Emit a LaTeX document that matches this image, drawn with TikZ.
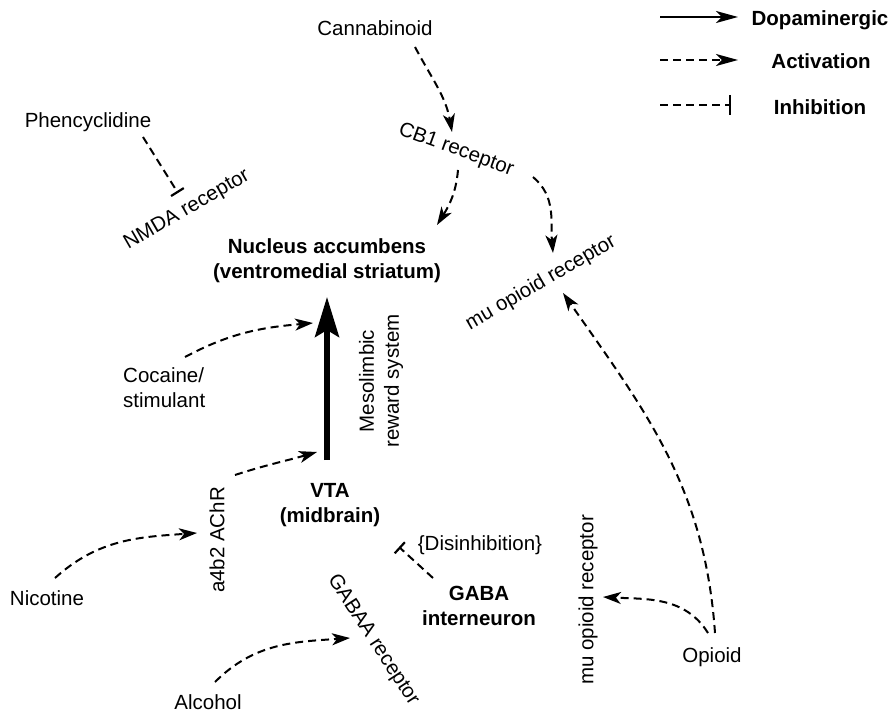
\documentclass[tikz,border=0pt]{standalone}
\usepackage{fontspec}
\setmainfont{Liberation Sans}
\usetikzlibrary{arrows.meta,calc}
\begin{document}
\begin{tikzpicture}[x=1pt,y=1pt,
  lbl/.style={inner sep=1pt,font=\fontsize{20.5}{25}\selectfont},
  blbl/.style={inner sep=1pt,font=\fontsize{20.5}{25}\selectfont\bfseries,align=center},
  act/.style={line width=2pt,dash pattern=on 8pt off 5pt,-{Stealth[length=18pt,width=12pt,inset=5pt]}},
  inh/.style={line width=2pt,dash pattern=on 8pt off 5pt,-{Bar[width=15pt,line width=2.2pt]}},
  dopa/.style={line width=5.5pt,-{Stealth[length=40pt,width=24pt,inset=7pt]}}
]
\useasboundingbox (0,0) rectangle (895,-714);

% nodes
\node[lbl] (cann) at (375,-28) {Cannabinoid};
\node[lbl] (phen) at (88,-122) {Phencyclidine};
\node[lbl,rotate=30] (nmda) at (187,-210) {NMDA receptor};
\node[lbl,rotate=-20] (cb1) at (456,-150) {CB1 receptor};
\node[lbl,rotate=30] (muup) at (541,-283) {mu opioid receptor};
\node[blbl] (nac) at (327,-261) {Nucleus accumbens\\(ventromedial striatum)};
\node[lbl,rotate=90,align=center] (meso) at (381,-381) {Mesolimbic\\reward system};
\node[lbl,align=left,anchor=west] (coc) at (122,-388) {Cocaine/\\stimulant};
\node[blbl] (vta) at (330,-505) {VTA\\(midbrain)};
\node[lbl,rotate=90] (ach) at (217,-540) {a4b2 AChR};
\node[lbl] (nic) at (47,-598) {Nicotine};
\node[lbl] (alc) at (208,-702) {Alcohol};
\node[lbl,rotate=-57] (gabaa) at (373,-640) {GABAA receptor};
\node[lbl] (dis) at (480,-545) {\{Disinhibition\}};
\node[blbl] (gaba) at (479,-606) {GABA\\interneuron};
\node[lbl,rotate=90] (mulo) at (588,-600) {mu opioid receptor};
\node[lbl] (opi) at (712,-657) {Opioid};

% legend
\node[blbl] (leg1) at (820,-20) {Dopaminergic};
\node[blbl] (leg2) at (821,-61) {Activation};
\node[blbl] (leg3) at (820,-107) {Inhibition};
\coordinate (l1a) at (660,-17);
\coordinate (l1b) at (738,-17);
\coordinate (l2a) at (660,-60);
\coordinate (l2b) at (738,-60);
\coordinate (l3a) at (660,-105);
\coordinate (l3b) at (731,-105);
\draw[line width=2pt,-{Stealth[length=22pt,width=12pt,inset=6pt]}] (l1a) -- (l1b);
\draw[line width=2pt,dash pattern=on 8pt off 5pt,-{Stealth[length=22pt,width=12pt,inset=6pt]}] (l2a) -- (l2b);
\draw[line width=2pt,dash pattern=on 8pt off 5pt,-{Bar[width=20pt,line width=2.2pt]}] (l3a) -- (l3b);

% dopaminergic pathway
\coordinate (dtop) at ($(nac.center)+(0,-36)$);
\coordinate (cocT) at ($(dtop)+(-14,-26)$);
\coordinate (achT) at ($(dtop)+(-10,-155)$);
\draw[dopa] ($(vta.center)+(-3,45)$) -- (dtop);

% connectors
\draw[act] ($(cann.center)+(40,-19)$) to[out=-62,in=100] ($(cb1.center)+(-4,18)$);
\draw[act] ($(cb1.center)+(2,-20)$) to[out=-95,in=58] ($(nac.center)+(110,36)$);
\draw[act] ($(cb1.center)+(77,-27)$) to[out=-40,in=95] ($(muup.center)+(12,30)$);
\draw[inh] ($(phen.center)+(55,-15)$) -- ($(nmda.center)+(-9,17)$);
\draw[act] ($(coc.west)+(63,31)$) to[out=28,in=185] (cocT);
\draw[act] ($(ach.center)+(18,65)$) to[out=18,in=196] (achT);
\draw[act] ($(nic.center)+(8,20)$) to[out=42,in=184] ($(ach.center)+(-20,7)$);
\draw[act] ($(alc.center)+(7,20)$) to[out=45,in=184] ($(gabaa.center)+(-23,2)$);
\draw[inh] ($(gaba.center)+(-46,28)$) -- ($(vta.center)+(69,-42)$);
\draw[act] ($(opi.center)+(-4,24)$) to[out=122,in=-3] ($(mulo.center)+(15,3)$);
\draw[act] ($(opi.center)+(3,24)$) to[out=94,in=-55] ($(muup.center)+(22,-10)$);
\end{tikzpicture}
\end{document}
